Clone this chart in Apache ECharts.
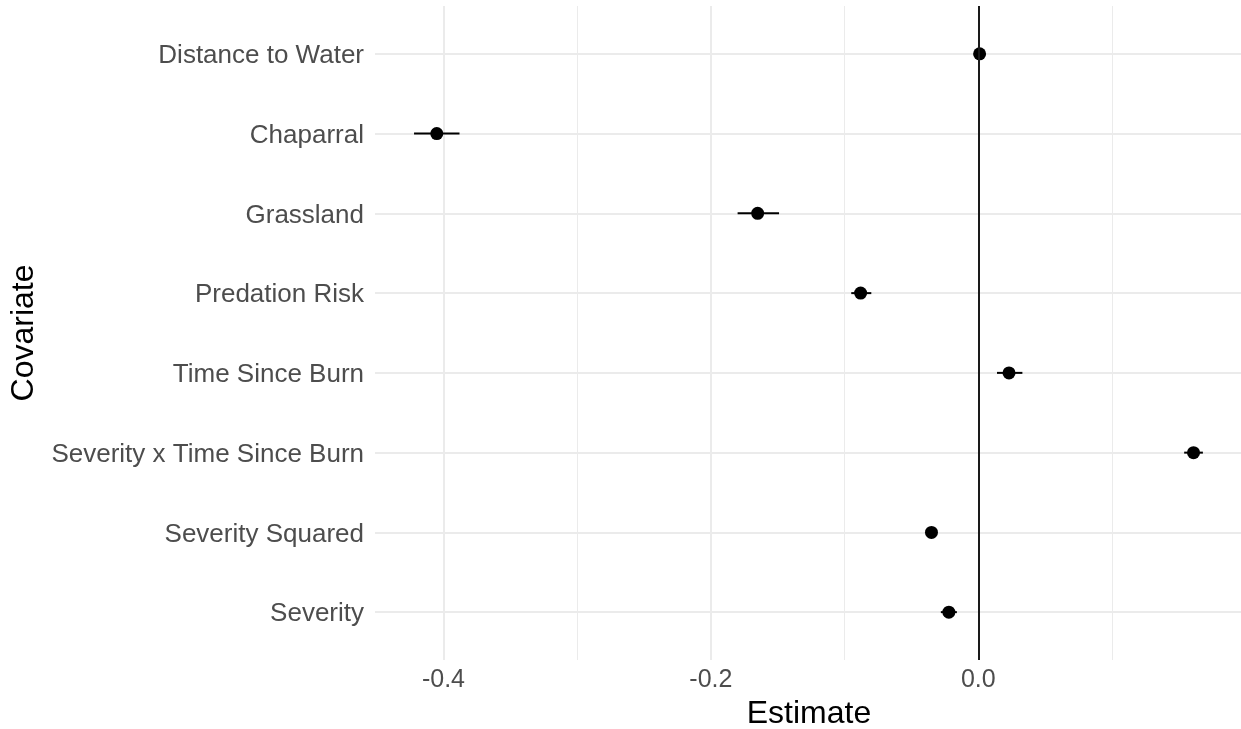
<!DOCTYPE html>
<html>
<head>
<meta charset="utf-8">
<title>Covariate estimates</title>
<script src="https://cdn.jsdelivr.net/npm/echarts@6/dist/echarts.min.js"></script>
<style>
  html, body { margin: 0; padding: 0; background: #ffffff; }
  #chart { width: 1241px; height: 729px; }
</style>
</head>
<body>
<div id="chart"></div>
<script>
// Covariates, listed top to bottom
const categories = [
  'Distance to Water',
  'Chaparral',
  'Grassland',
  'Predation Risk',
  'Time Since Burn',
  'Severity x Time Since Burn',
  'Severity Squared',
  'Severity'
];
// Point estimates and interval bounds
const estimates = [0.001, -0.405, -0.165, -0.088, 0.023, 0.161, -0.035, -0.022];
const lower     = [-0.003, -0.422, -0.180, -0.095, 0.014, 0.154, -0.039, -0.028];
const upper     = [0.004, -0.388, -0.149, -0.080, 0.033, 0.168, -0.031, -0.016];
// Axis ticks
const majorTicks = [-0.4, -0.2, 0.0];
const minorTicks = [-0.3, -0.1, 0.1];
const xMin = -0.4512, xMax = 0.198;

const rowIdx = categories.map((_, i) => i);
const pointData = estimates.map((v, i) => [v, i]);
const barData = rowIdx.map(i => [lower[i], upper[i], i]);

const fontFamily = '"Liberation Sans", Arial, Helvetica, sans-serif';
const gridColor = '#ebebeb';

const chart = echarts.init(document.getElementById('chart'), null, { renderer: 'canvas' });

chart.setOption({
  animation: false,
  backgroundColor: '#ffffff',
  textStyle: { fontFamily },
  grid: {
    left: 375, top: 6, width: 868, height: 654,
    containLabel: false,
    outerBoundsMode: 'none'
  },
  xAxis: [
    {
      type: 'value',
      min: xMin,
      max: xMax,
      position: 'bottom',
      axisLine: { show: false },
      axisTick: { show: false, customValues: majorTicks },
      axisLabel: {
        customValues: majorTicks,
        formatter: v => v.toFixed(1),
        color: '#4d4d4d',
        fontSize: 25,
        margin: 8,
        fontFamily
      },
      splitLine: { show: true, lineStyle: { color: gridColor, width: 2 } },
      name: 'Estimate',
      nameLocation: 'middle',
      nameGap: 17,
      nameTextStyle: { color: '#000000', fontSize: 32, fontFamily }
    },
    {
      type: 'value',
      min: xMin,
      max: xMax,
      position: 'top',
      axisLine: { show: false },
      axisTick: { show: false, customValues: minorTicks },
      axisLabel: { show: false, customValues: minorTicks },
      splitLine: { show: true, lineStyle: { color: gridColor, width: 1 } }
    }
  ],
  yAxis: {
    type: 'value',
    inverse: true,
    min: -0.6,
    max: categories.length - 0.4,
    axisLine: { show: false },
    axisTick: { show: false, customValues: rowIdx },
    axisLabel: {
      customValues: rowIdx,
      formatter: v => '{c|' + (categories[Math.round(v)] || '') + '}',
      margin: 11,
      rich: {
        c: {
          color: '#4d4d4d',
          fontSize: 26,
          fontFamily,
          padding: [4, 0, 0, 0]
        }
      }
    },
    splitLine: { show: true, lineStyle: { color: gridColor, width: 2 } },
    name: 'Covariate',
    nameLocation: 'middle',
    nameRotate: 90,
    nameGap: 332,
    nameTextStyle: { color: '#000000', fontSize: 32, fontFamily }
  },
  series: [
    {
      // horizontal interval bars, plus the reference line at zero
      type: 'custom',
      z: 2,
      silent: true,
      data: barData,
      encode: { x: [0, 1], y: 2 },
      renderItem: function (params, api) {
        const a = api.coord([api.value(0), api.value(2)]);
        const b = api.coord([api.value(1), api.value(2)]);
        return {
          type: 'line',
          shape: { x1: a[0], y1: a[1], x2: b[0], y2: b[1] },
          style: { stroke: '#000000', lineWidth: 2 }
        };
      },
      markLine: {
        silent: true,
        symbol: 'none',
        label: { show: false },
        lineStyle: { color: '#1a1a1a', width: 2, type: 'solid' },
        data: [{ xAxis: 0 }]
      }
    },
    {
      type: 'scatter',
      z: 3,
      data: pointData,
      symbol: 'circle',
      symbolSize: 13,
      itemStyle: { color: '#000000', opacity: 1 }
    }
  ]
});
</script>
</body>
</html>
